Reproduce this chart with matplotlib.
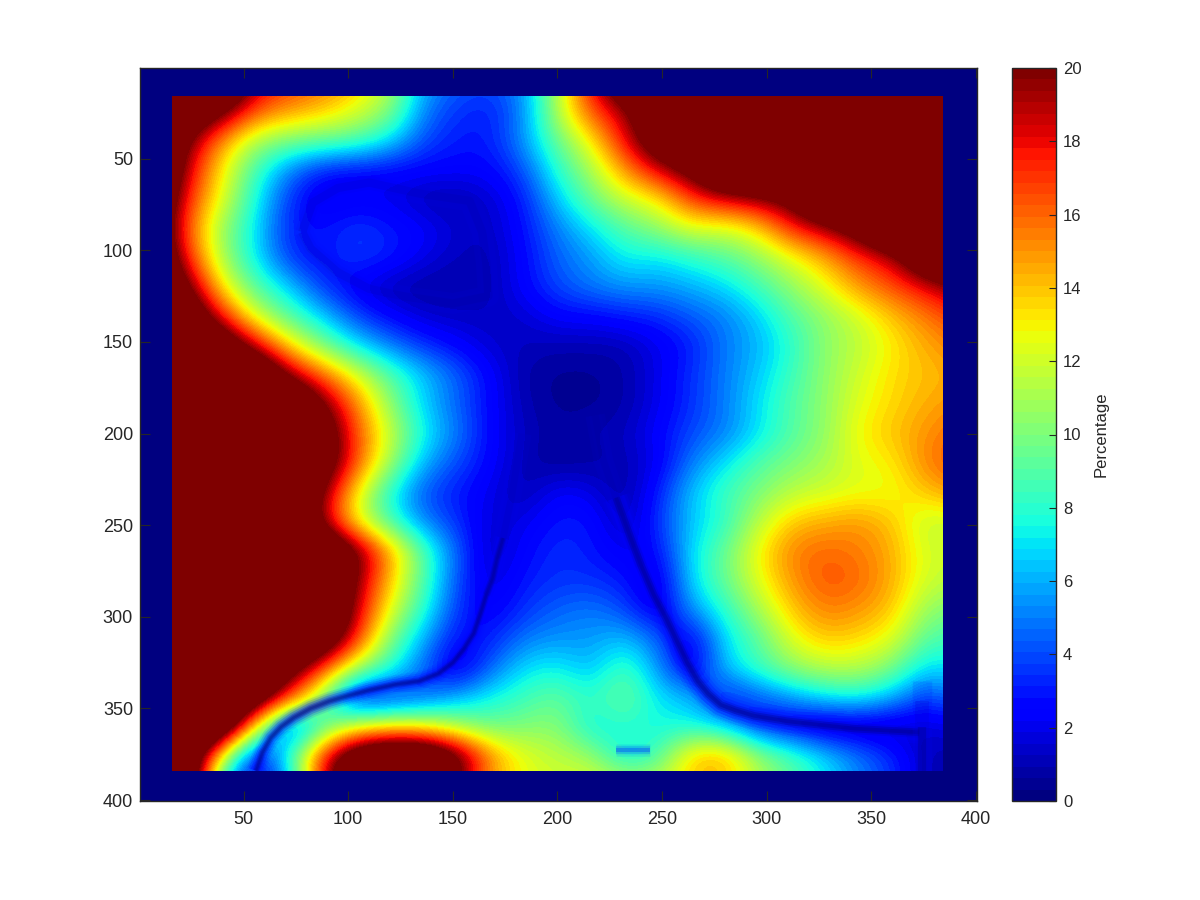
import numpy as np
import matplotlib
matplotlib.use("Agg")
import matplotlib.pyplot as plt
from matplotlib.patches import Rectangle

plt.rcParams['font.family'] = ['Liberation Sans', 'DejaVu Sans']

# Percentage values, rows y=8..392, columns x=8..392 (step 16)
row_008 = [26,26,26,19,17,16,14,11.5,6,4.5,4,5.5,11,18,24,26,26,26,26,26,26,26,26,26,26]
row_024 = [26,24,21,16.5,15,14,12.5,10.5,5,3.5,3,5,11.5,16.5,19,24,26,26,26,26,26,26,26,26,26]
row_040 = [26,20,15,11,10,9.5,9,7,4,3,3,5.5,9.5,13,18,23,26,26,26,26,26,26,26,26,26]
row_056 = [26,18.5,13,8.5,5,3,2.5,2.5,2.5,2.5,2.5,4,8,11,15,18.5,21,26,26,26,26,26,26,26,26]
row_072 = [25,17,12.5,7.5,3.5,1.5,2,2,1,0.8,1.5,3,6.5,9.5,12,13,17,18.5,19.5,21,26,26,26,26,26]
row_088 = [24,16,10.5,7,3,2.8,3.8,3,2.5,1.5,1.2,2.8,5,7,9,10.5,12.5,12,13.5,17.5,19,22,26,26,26]
row_104 = [25,17,11,7,3.5,2.5,3.8,3.2,2,1.2,1,2.5,4.5,5.5,7.5,7,8,9,10.5,12.5,14.5,17,18.5,24,26]
row_120 = [26,20.5,13,9,6.5,3.5,2,.9,.7,.7,1,2.5,4,5,5.5,5.5,6,6.8,8.5,10.5,12.5,15,16.5,18,20]
row_136 = [26,24,17.5,12,9,6.5,3.8,2.5,1.5,1.3,1.3,1.5,2.5,2.5,3,3.3,4.3,5,6.6,9,10.5,12,14,15.5,17]
row_152 = [26,26,24,18.5,13.5,10,7,5,3.5,2.5,1.5,1.2,1,1,1,2,3,5,6,8,10.5,11.5,13,14.5,15.5]
row_168 = [26,26,26,26,19.5,16,12.5,9,6.5,4.5,2.5,.8,.5,.5,.8,2,3.5,5,6.5,8.5,10.5,12,13.5,14,14.5]
row_184 = [26,26,26,26,26,20.5,15.5,10.5,6.5,4.5,2.5,1,.5,.5,.8,2,3.5,5,7,9,10.5,12.5,13.5,14.5,15]
row_200 = [26,26,26,26,26,23,16.5,12,7.5,5,2.5,1.2,.7,1,1.2,2.5,4,5,7,9,10.5,13,14,15,16]
row_216 = [26,26,26,26,26,23,16.5,11,6,4,2.5,1,.5,.7,1,2,5,7,9,10,11,12.5,13,15.5,16.5]
row_232 = [26,26,26,26,26,20,13,7.5,4,3,2,.8,2.5,2,.6,3,6.5,8.5,10,11.5,12,12.5,12.5,14,15]
row_248 = [26,26,26,26,26,19,12.5,8.5,5,3.5,1.5,2,3,3,.8,3.5,6.5,8,11.5,14,14.5,15,14,11.5,12]
row_264 = [26,26,26,26,26,26,21,15,9,4.5,1,2.5,3.5,3,2,2.5,7,9.5,13,15.5,16,15.5,14.5,12,12]
row_280 = [26,26,26,26,26,26,20,14,9,4,1.5,3,3.5,3.5,3,1.2,7,9.5,12.5,15,16.5,16,14.5,12,11.5]
row_296 = [26,26,26,26,26,26,19,12.5,8,3.5,2,3.5,4.5,5,4,1.5,5.5,8,11,14,15.5,15,14,10.5,10]
row_312 = [26,26,26,26,26,24,17.5,10,6,2.5,3,5,5.5,5.5,6.5,4.5,1.5,7,9,12.5,14,13.5,12.5,9,8.5]
row_328 = [26,26,26,26,22,17,11,8,4.5,1.2,4.5,7,7.5,6,9,5.5,1.5,6.5,8.5,10.5,11.5,11.5,10,6.5,7.5]
row_344 = [26,26,26,24,17,10,1.5,2.5,4,6,7.5,8.5,9.5,8,10,7,6.5,2.5,4,5.5,7,7.5,6,3.5,5]
row_360 = [26,26,26,13,2,8.5,12.5,13.5,13,11,9.5,10,10.5,7,8,7.5,7.5,6.5,3,2,.8,1,1,1.5,2]
row_376 = [26,25,12,1,8.5,18,24,26,26,22,15.5,12.5,11.5,11,7,8.5,14.5,15,11,9,7,5,3.5,1,1]
row_392 = [26,26,6,2,5,18,26,26,26,20,14,12.5,12,12.5,12,12,13.5,13.5,11,9,7,5,3.5,1,1]
rows = [row_008,row_024,row_040,row_056,row_072,row_088,row_104,row_120,row_136,row_152,row_168,
        row_184,row_200,row_216,row_232,row_248,row_264,row_280,row_296,row_312,row_328,
        row_344,row_360,row_376,row_392]

# Thin low-value troughs
trough_left_x = [56,59,63,68,74,82,91,100,110,122,134,143,150,155,160,163,166,169,171,174]
trough_left_y = [384,374,366,360,355,350,346,343,340,337,335,331,325,318,309,299,288,279,269,257]
tail_left_x = [166,169,171,174,178,183]
tail_left_y = [288,279,269,257,235,200]
trough_right_x = [228,235,240,246,252,257,262,267,272,278,285,294,310,326,342,357,373]
trough_right_y = [235,257,272,288,301,313,325,335,342,348,351,354,357,359,361,362,363]
tail_right_x = [218,222,228,235,240]
tail_right_y = [190,215,235,257,272]
edge_x = [374,374]
edge_outer_y = [335,384]
edge_mid_y = [346,384]
edge_core_y = [360,384]
oval_x = [78,83,95,110,134,158,164,166,167,150,126,110,95,82,78]
oval_y = [90,74,66,63,69,73,90,107,125,129,125,121,112,99,90]
lens_x = [228,244]
lens_y = [372.5,372.5]

xticks = [50,100,150,200,250,300,350,400]
yticks = [50,100,150,200,250,300,350,400]
cbar_ticks = [0,2,4,6,8,10,12,14,16,18,20]

W, H = 1200, 900
fig = plt.figure(figsize=(W/100, H/100), dpi=100, facecolor='white')
ax = fig.add_axes([140/W, 1-801/H, (977-140)/W, (801-68)/H])
cmap = plt.get_cmap('jet', 64)
ax.set_facecolor(cmap(0))
im = ax.imshow(np.array(rows, dtype=float), cmap=cmap, vmin=0, vmax=20,
               extent=(0,400,400,0), interpolation='bicubic', aspect='auto', zorder=1)
clip = Rectangle((16,16), 368, 368, transform=ax.transData)
im.set_clip_path(clip)

blue, mid, navy = (0,0,1), (0,0,.8), (0,0,.5)

def stroke(xs, ys, layers):
    for lw, col, a in layers:
        line, = ax.plot(xs, ys, color=col, alpha=a, lw=lw, solid_capstyle='butt',
                        solid_joinstyle='round', zorder=2)
        line.set_clip_path(clip)

core = [(15,blue,.10),(12,blue,.16),(9,blue,.25),(6,mid,.30),(4,navy,.30),(2,navy,.30)]
tail = [(14,blue,.06),(9,mid,.08),(5,navy,.08)]
stroke(trough_left_x, trough_left_y, [(lw*.9, c, a) for lw, c, a in core])
stroke(trough_right_x, trough_right_y, [(lw*1.35, c, a) for lw, c, a in core])
stroke(tail_left_x, tail_left_y, tail)
stroke(tail_right_x, tail_right_y, tail)
stroke(edge_x, edge_outer_y, [(14,blue,.12)])
stroke(edge_x, edge_mid_y, [(10,mid,.2)])
stroke(edge_x, edge_core_y, [(6,navy,.3)])
stroke(oval_x, oval_y, [(15,blue,.07),(10,mid,.08),(6,navy,.10)])
stroke(lens_x, lens_y, [(9,(0,.5,1),.15),(6,(0,.35,1),.25),(3,(0,.2,1),.35)])

ax.set_xlim(0.5, 400.5)
ax.set_ylim(400.5, 0.5)
ax.set_xticks(xticks)
ax.set_yticks(yticks)
ax.tick_params(direction='in', length=7, width=0.8, top=True, right=True, color='#262626',
               labelcolor='#262626', labelsize=13, pad=5)
ax.tick_params(axis='x', pad=7)
for s in ax.spines.values():
    s.set_color('#262626'); s.set_linewidth(1.0); s.set_zorder(5)

cax = fig.add_axes([1012/W, 1-801/H, (1056-1012)/W, (801-68)/H])
cb = fig.colorbar(im, cax=cax)
cb.set_ticks(cbar_ticks)
cb.ax.tick_params(direction='in', length=5, width=0.8, color='#262626', labelcolor='#262626',
                  labelsize=12, pad=5)
cb.outline.set_edgecolor('#262626')
cb.outline.set_linewidth(1.0)
cb.set_label('Percentage', fontsize=12, color='#262626', labelpad=9)
fig.savefig('out.png', dpi=100)
